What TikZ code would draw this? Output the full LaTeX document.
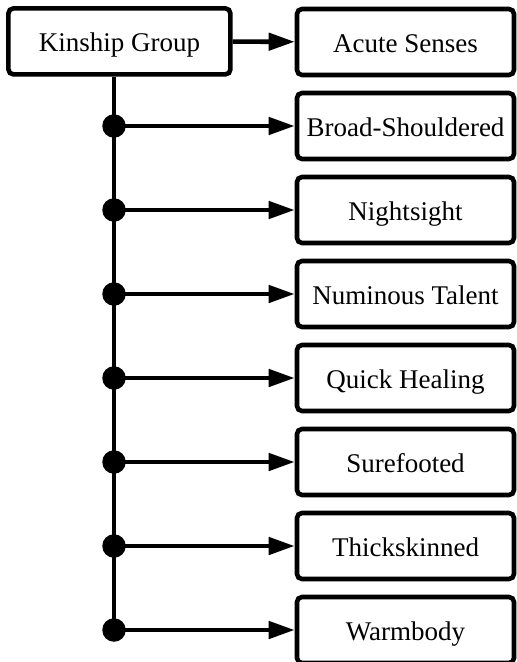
\documentclass[tikz,border=0pt]{standalone}
\usepackage{fontspec}
\setmainfont{Liberation Serif}
\usetikzlibrary{arrows.meta}
\begin{document}
\begin{tikzpicture}[x=1pt,y=-1pt,
  box/.style={draw=black,line width=4.6pt,rounded corners=5pt,fill=white,
    minimum height=66pt,inner sep=0pt,text height=21pt,text depth=0pt,
    font=\fontsize{27}{31}\selectfont},
  srcbox/.style={box,minimum width=222pt},
  traitbox/.style={box,minimum width=217pt},
  link/.style={line width=4.6pt,-{Triangle[length=26pt,width=17pt]}},
  trunk/.style={line width=4.6pt},
  dot/.style={circle,fill=black,inner sep=0pt,minimum size=23.5pt}]
\useasboundingbox (0,0) rectangle (517,662);
% source and its first trait
\node[srcbox] (kin) at (119.4,41.4) {Kinship Group};
\node[traitbox] (t0) at (405.5,42) {Acute Senses};
\draw[link] (kin) -- (t0);
% remaining traits, each fed from a junction on the trunk
\foreach \name [count=\i] in {Broad-Shouldered,Nightsight,Numinous Talent,Quick Healing,Surefooted,Thickskinned,Warmbody}{
  \node[traitbox] (t\i) at (405.5,42+84*\i) {\name};
  \node[dot] (d\i) at (114,42+84*\i) {};
  \draw[link] (d\i.center) -- (t\i.west);
}
\draw[trunk] (kin.south -| d1) -- (d7.center);
\end{tikzpicture}
\end{document}
